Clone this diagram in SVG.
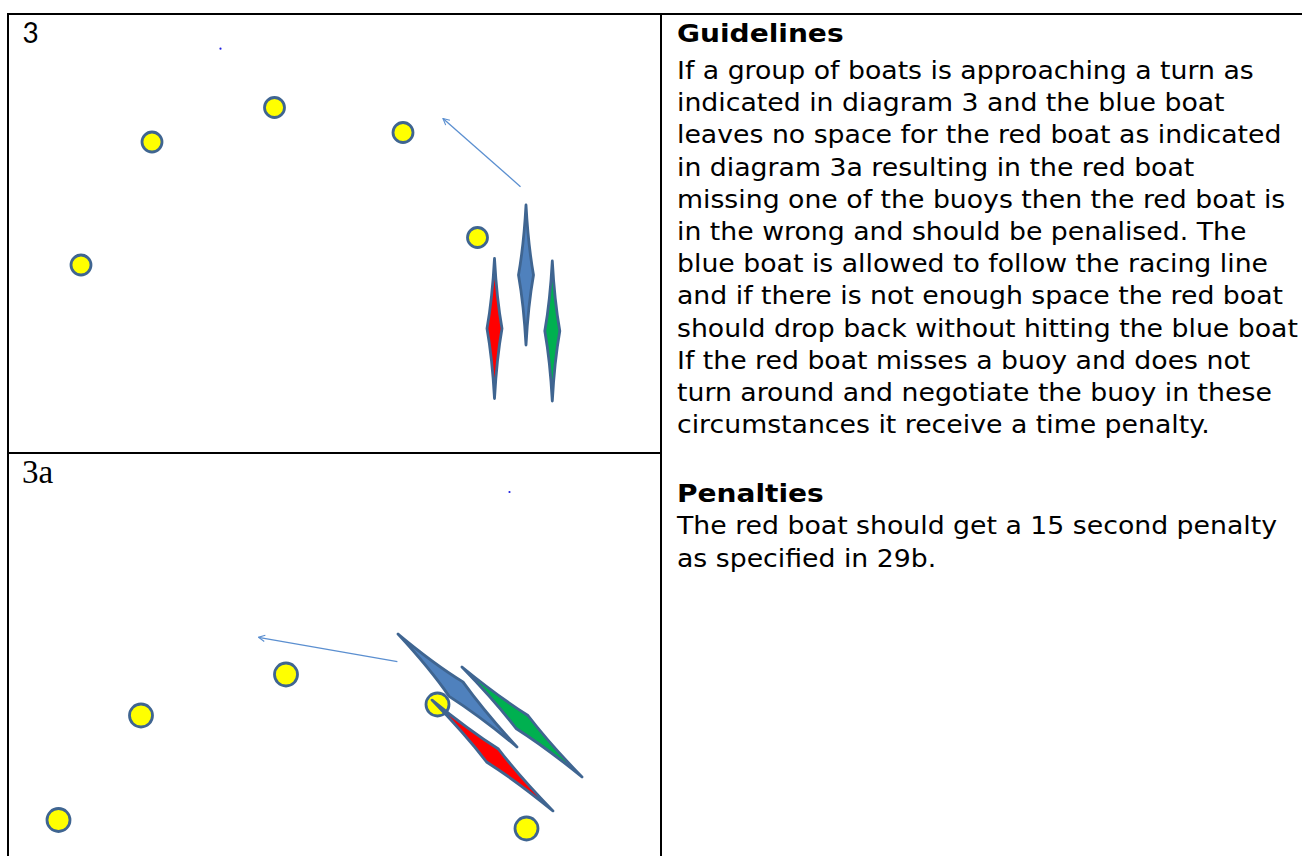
<svg xmlns="http://www.w3.org/2000/svg" width="1302" height="856" viewBox="0 0 1302 856">
  <style>
    .grid { stroke: #000; stroke-width: 2; fill: none; }
    .buoy { fill: #FFFF00; stroke: #3F6591; stroke-width: 2.8; }
    .boat { stroke: #3F6591; stroke-width: 2.8; stroke-linejoin: round; }
    .blue { fill: #4F81BD; }
    .red { fill: #FF0000; }
    .green { fill: #00B050; }
    .arrow { stroke: #5B8FD0; stroke-width: 1.3; fill: none; }
    .dot { fill: #1F1FE0; }
    .lbl3 { font-family: Lato, "Liberation Sans", Arial, sans-serif; font-size: 28px; fill: #000; }
    .lbl3a { font-family: "Liberation Serif", "Times New Roman", serif; font-size: 33px; fill: #000; }
    .body { font-family: "DejaVu Sans", Verdana, sans-serif; font-size: 24.3px; fill: #000; }
    .head { font-family: "DejaVu Sans", Verdana, sans-serif; font-size: 25.5px; font-weight: bold; fill: #000; }
  </style>
  <defs>
    <marker id="ah" viewBox="0 0 10 10" refX="9" refY="5" markerWidth="8" markerHeight="8" orient="auto" markerUnits="userSpaceOnUse">
      <path d="M1,1 L9,5 L1,9" fill="none" stroke="#5B8FD0" stroke-width="1.4"/>
    </marker>
    <path id="boat3" d="M0,-70 Q2.2,-30 7.5,0 Q2.2,30 0,70 Q-2.2,30 -7.5,0 Q-2.2,-30 0,-70 Z"/>
  </defs>

  <rect width="1302" height="856" fill="#fff"/>

  <g id="table">
    <line class="grid" x1="7" y1="14" x2="1302" y2="14"/>
    <line class="grid" x1="8" y1="13" x2="8" y2="856"/>
    <line class="grid" x1="661" y1="13" x2="661" y2="856"/>
    <line class="grid" x1="8" y1="453" x2="661" y2="453"/>
  </g>

  <g id="diagram-3">
    <text class="lbl3" x="22.5" y="42.5">3</text>
    <circle class="dot" cx="220.5" cy="48.7" r="1.1"/>
    <g id="d3-buoy1"><circle class="buoy" cx="152" cy="142" r="10"/></g>
    <g id="d3-buoy2"><circle class="buoy" cx="274.5" cy="107.5" r="10"/></g>
    <g id="d3-buoy3"><circle class="buoy" cx="403" cy="132.5" r="10"/></g>
    <g id="d3-buoy4"><circle class="buoy" cx="477.5" cy="237.5" r="10"/></g>
    <g id="d3-buoy5"><circle class="buoy" cx="81" cy="265" r="10"/></g>
    <g id="d3-boat-blue"><use href="#boat3" class="boat blue" transform="translate(526 275)"/></g>
    <g id="d3-boat-red"><use href="#boat3" class="boat red" transform="translate(494.5 328.5)"/></g>
    <g id="d3-boat-green"><use href="#boat3" class="boat green" transform="translate(552.3 331)"/></g>
  </g>

  <g id="diagram-3a">
    <text class="lbl3a" x="22" y="483">3a</text>
    <circle class="dot" cx="509.5" cy="492" r="1.1"/>
    <g id="d3a-buoy1"><circle class="buoy" cx="286" cy="674.5" r="11.5"/></g>
    <g id="d3a-buoy2"><circle class="buoy" cx="141" cy="715.5" r="11.5"/></g>
    <g id="d3a-buoy3"><circle class="buoy" cx="58.5" cy="820" r="11.5"/></g>
    <g id="d3a-buoy5"><circle class="buoy" cx="526.5" cy="828.5" r="11.5"/></g>
    <g id="d3a-boat-blue"><path class="boat blue" transform="translate(457.5 690.5) rotate(-46.5)" d="M0,-82 Q3,-35 10,-2 Q3,35 0,82 Q-3,35 -10,-2 Q-3,-35 0,-82 Z"/></g>
    <g id="d3a-buoy4"><circle class="buoy" cx="437.5" cy="704.5" r="11.5"/></g>
    <g id="d3a-boat-green"><path class="boat green" transform="translate(522 722) rotate(-47.5)" d="M0,-81.4 Q2.6,-35 8.8,0 Q2.6,35 0,81.4 Q-2.6,35 -8.8,0 Q-2.6,-35 0,-81.4 Z"/></g>
    <g id="d3a-boat-red"><path class="boat red" transform="translate(492.5 755.5) rotate(-47.5)" d="M0,-82 Q2.6,-35 8.8,0 Q2.6,35 0,82 Q-2.6,35 -8.8,0 Q-2.6,-35 0,-82 Z"/></g>
  </g>

  <g id="connectors">
    <line class="arrow" x1="520.5" y1="186.7" x2="443" y2="118.5" marker-end="url(#ah)"/>
    <line class="arrow" x1="397.4" y1="661.7" x2="258.5" y2="637.3" marker-end="url(#ah)"/>
  </g>

  <g id="text-panel" transform="translate(677 0) scale(1.1 1)">
    <text class="head" x="0" y="42">Guidelines</text>
    <text class="body">
      <tspan x="0" y="79">If a group of boats is approaching a turn as</tspan>
      <tspan x="0" y="111.2">indicated in diagram 3 and the blue boat</tspan>
      <tspan x="0" y="143.4">leaves no space for the red boat as indicated</tspan>
      <tspan x="0" y="175.6">in diagram 3a resulting in the red boat</tspan>
      <tspan x="0" y="207.8">missing one of the buoys then the red boat is</tspan>
      <tspan x="0" y="240">in the wrong and should be penalised. The</tspan>
      <tspan x="0" y="272.2">blue boat is allowed to follow the racing line</tspan>
      <tspan x="0" y="304.4">and if there is not enough space the red boat</tspan>
      <tspan x="0" y="336.6">should drop back without hitting the blue boat</tspan>
      <tspan x="0" y="368.8">If the red boat misses a buoy and does not</tspan>
      <tspan x="0" y="401">turn around and negotiate the buoy in these</tspan>
      <tspan x="0" y="433.2">circumstances it receive a time penalty.</tspan>
    </text>
    <text class="head" x="0" y="502">Penalties</text>
    <text class="body">
      <tspan x="0" y="534.5">The red boat should get a 15 second penalty</tspan>
      <tspan x="0" y="566.7">as specified in 29b.</tspan>
    </text>
  </g>
</svg>
